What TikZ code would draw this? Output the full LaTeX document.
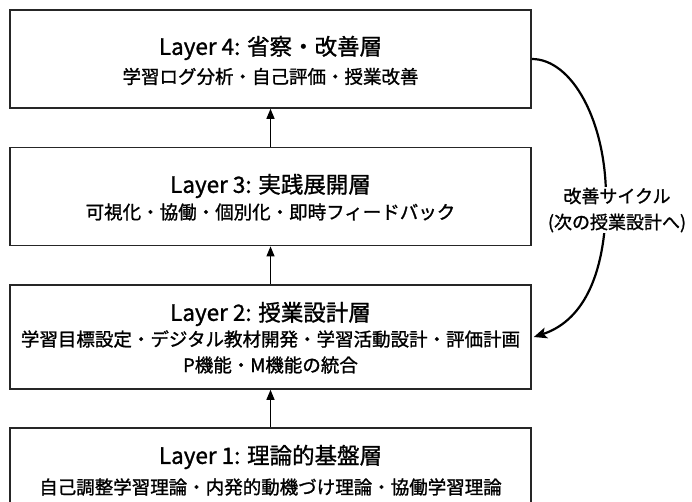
\documentclass[tikz,border=0pt]{standalone}
\usepackage{fontspec}
\setmainfont{Noto Sans CJK JP}[FakeBold=1.2]
\usetikzlibrary{arrows.meta}
\begin{document}
\begin{tikzpicture}[x=1pt,y=-1pt,
  layer/.style={draw=black!85, line width=1.6pt, minimum width=521pt, inner sep=0pt},
  ttl/.style={inner sep=0pt, font=\fontsize{22.5}{26}\selectfont},
  sub/.style={inner sep=0pt, font=\fontsize{18.5}{22}\selectfont},
  varrow/.style={line width=1.2pt, -{Triangle[length=10pt,width=8pt]}},
  cyc/.style={line width=2.2pt, -{Stealth[length=13pt,width=11pt,inset=3pt]}},
  lbl/.style={fill=white, inner sep=1pt, align=center, font=\fontsize{18}{26}\selectfont}]
\clip (0,0) rectangle (692,502);
\fill[white] (0,0) rectangle (692,502);
% boxes
\node[layer, minimum height=98pt]  (b4) at (270.5,59) {};
\node[layer, minimum height=98pt]  (b3) at (270.5,196.6) {};
\node[layer, minimum height=104pt] (b2) at (270.5,337) {};
\node[layer, minimum height=90pt]  (b1) at (270.5,472.7) {};
% texts
\node[ttl] (t4a) at (270.5,48) {Layer 4: 省察・改善層};
\node[sub] (t4b) at (270.5,76.5) {学習ログ分析・自己評価・授業改善};
\node[ttl] (t3a) at (270.5,186) {Layer 3: 実践展開層};
\node[sub] (t3b) at (270.5,212) {可視化・協働・個別化・即時フィードバック};
\node[ttl] (t2a) at (270.5,314) {Layer 2: 授業設計層};
\node[sub] (t2b) at (270.5,339) {学習目標設定・デジタル教材開発・学習活動設計・評価計画};
\node[sub] (t2c) at (270.5,365) {P機能・M機能の統合};
\node[ttl] (t1a) at (270.5,457) {Layer 1: 理論的基盤層};
\node[sub] (t1b) at (270.5,487) {自己調整学習理論・内発的動機づけ理論・協働学習理論};
% vertical arrows
\draw[varrow] (b1.north) -- (b2.south);
\draw[varrow] (b2.north) -- (b3.south);
\draw[varrow] (b3.north) -- (b4.south);
% improvement cycle
\draw[cyc] (b4.east) .. controls (572,59) and (606,121) .. (606,198)
  .. controls (606,280) and (580,322) .. ([xshift=2pt]b2.east);
\node[lbl] (cyc) at (617,210) {改善サイクル\\(次の授業設計へ)};
\end{tikzpicture}
\end{document}
